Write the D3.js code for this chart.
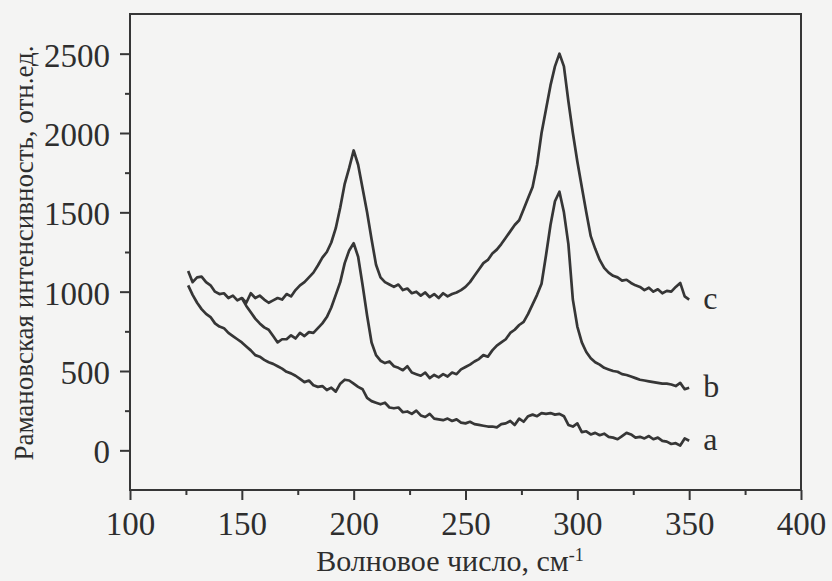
<!DOCTYPE html>
<html>
<head>
<meta charset="utf-8">
<script src="https://cdn.jsdelivr.net/npm/d3@7"></script>
<style>
  body { margin: 0; background: #f4f4f3; }
  svg { display: block; }
  text { font-family: "Liberation Serif", "Times New Roman", serif; fill: #2e2e2e; }
</style>
</head>
<body>
<div id="chart"></div>
<script>
// Raman spectra: wavenumber grid (cm-1) and intensity, arb. units
const waveAC = d3.range(126, 351, 2);
const waveB = d3.range(150, 351, 2);

const seriesA = [
  1040, 980, 930, 890, 860, 840, 800, 780, 770, 740,
  720, 700, 680, 655, 630, 600, 590, 570, 555, 545,
  530, 515, 495, 485, 470, 450, 430, 440, 410, 400,
  405, 380, 395, 370, 420, 445, 440, 420, 400, 385,
  330, 310, 300, 290, 300, 270, 265, 270, 240, 245,
  230, 250, 220, 210, 230, 200, 195, 190, 200, 185,
  195, 175, 170, 180, 165, 160, 155, 150, 150, 145,
  165, 170, 185, 160, 200, 180, 215, 225, 215, 235,
  230, 235, 225, 230, 215, 160, 150, 170, 115, 120,
  100, 110, 95, 105, 85, 80, 70, 90, 110, 100,
  80, 85, 75, 90, 70, 80, 60, 55, 40, 45,
  30, 75, 60
];

const seriesB = [
  960, 910, 870, 830, 800, 775, 760, 720, 680, 700,
  700, 725, 705, 740, 720, 745, 740, 770, 800, 840,
  900, 980, 1060, 1180, 1260, 1305, 1220, 1040, 850, 680,
  600, 565, 550, 560, 530, 520, 505, 530, 490, 480,
  470, 490, 455, 475, 460, 480, 465, 490, 480, 510,
  525, 540, 560, 575, 600, 590, 630, 660, 680, 700,
  740, 760, 790, 810, 860, 920, 980, 1050, 1230, 1420,
  1570, 1630, 1500, 1300, 950, 780, 680, 620, 580, 555,
  540, 520, 510, 500, 495, 480, 475, 465, 455, 445,
  440, 435, 430, 425, 420, 420, 415, 405, 425, 385,
  395
];

const seriesC = [
  1130, 1060, 1090, 1095, 1060, 1040, 1000, 985, 990, 960,
  975, 945, 960, 930, 990, 960, 975, 950, 930, 945,
  960, 950, 985, 970, 1010, 1040, 1060, 1090, 1120, 1165,
  1215, 1250, 1310, 1400, 1530, 1680, 1780, 1890, 1800, 1650,
  1500, 1330, 1170, 1090, 1060, 1045, 1030, 1045, 1010, 1020,
  990, 1000, 975, 995, 965, 985, 960, 990, 970, 985,
  995, 1010, 1030, 1060, 1100, 1140, 1180, 1200, 1240, 1265,
  1300, 1340, 1380, 1420, 1450, 1520, 1590, 1660, 1800, 2000,
  2150, 2300, 2420, 2500, 2420, 2200, 2000, 1820, 1660, 1500,
  1350, 1270, 1200, 1150, 1120, 1100, 1090, 1070, 1075, 1055,
  1040, 1030, 1010, 1025, 1000, 1015, 990, 1005, 1000, 1030,
  1055, 970, 950
];

const seriesNames = ['a', 'b', 'c'];
const xTicks = [100, 150, 200, 250, 300, 350, 400];
const xMinorTicks = [125, 175, 225, 275, 325, 375];
const yTicks = [0, 500, 1000, 1500, 2000, 2500];
const yMinorTicks = [250, 750, 1250, 1750, 2250];
const xLabel = 'Волновое число, см';
const xLabelSup = '-1';
const yLabel = 'Рамановская интенсивность, отн.ед.';

// Dimensions
const width = 832;
const height = 581;
const ink = '#363636';

const svg = d3.select('#chart')
  .append('svg')
    .attr('width', width)
    .attr('height', height)

// Scales
const x = d3.scaleLinear().domain([100, 400]).range([130, 801]);
const y = d3.scaleLinear().domain([-250, 2750]).range([490, 14]);

// Frame
svg.append('rect')
  .attr('x', x(100))
  .attr('y', y(2750))
  .attr('width', x(400) - x(100))
  .attr('height', y(-250) - y(2750))
  .attr('fill', 'none')
  .attr('stroke', ink)
  .attr('stroke-width', 2)

// Axes
const styleAxis = (g) => {
  g.select('.domain').remove();
  g.selectAll('line').attr('stroke', ink).attr('stroke-width', 2);
  g.selectAll('text').attr('font-size', 33);
}
svg.append('g')
  .attr('transform', `translate(0, ${y(-250)})`)
  .call(d3.axisBottom(x).tickValues(xTicks).tickFormat(d3.format('d')).tickSize(10).tickPadding(12))
  .call(styleAxis)
svg.append('g')
  .attr('transform', `translate(0, ${y(-250)})`)
  .call(d3.axisBottom(x).tickValues(xMinorTicks).tickFormat('').tickSize(5))
  .call(styleAxis)
svg.append('g')
  .attr('transform', `translate(${x(100)}, 0)`)
  .call(d3.axisLeft(y).tickValues(yTicks).tickFormat(d3.format('d')).tickSize(10).tickPadding(10))
  .call(styleAxis)
  .call((g) => g.selectAll('text').attr('dy', '0.38em'))
svg.append('g')
  .attr('transform', `translate(${x(100)}, 0)`)
  .call(d3.axisLeft(y).tickValues(yMinorTicks).tickFormat('').tickSize(5))
  .call(styleAxis)

// Spectra
const spectra = [
  { name: seriesNames[0], xs: waveAC, ys: seriesA },
  { name: seriesNames[1], xs: waveB, ys: seriesB },
  { name: seriesNames[2], xs: waveAC, ys: seriesC }
];
const line = d3.line()
  .x((d) => x(d[0]))
  .y((d) => y(d[1]))

svg.append('g')
  .selectAll('path')
  .data(spectra)
  .join('path')
    .attr('d', (s) => line(s.xs.map((v, i) => [v, s.ys[i]])))
    .attr('fill', 'none')
    .attr('stroke', ink)
    .attr('stroke-width', 2.7)
    .attr('stroke-linejoin', 'round')

svg.append('g')
  .selectAll('text')
  .data(spectra)
  .join('text')
    .attr('x', (s) => x(s.xs[s.xs.length - 1]) + 14)
    .attr('y', (s) => y(s.ys[s.ys.length - 1]))
    .attr('dy', '0.3em')
    .attr('font-size', 32)
    .text((s) => s.name)

// Axis titles
const xTitle = svg.append('text')
  .attr('x', 450)
  .attr('y', 571)
  .attr('text-anchor', 'middle')
  .attr('font-size', 30)
xTitle.append('tspan').text(xLabel)
xTitle.append('tspan')
  .attr('dy', -10)
  .attr('font-size', 18)
  .text(xLabelSup)

svg.append('text')
  .attr('transform', `translate(33, 253) rotate(-90)`)
  .attr('text-anchor', 'middle')
  .attr('font-size', 27)
  .text(yLabel)
</script>
</body>
</html>
